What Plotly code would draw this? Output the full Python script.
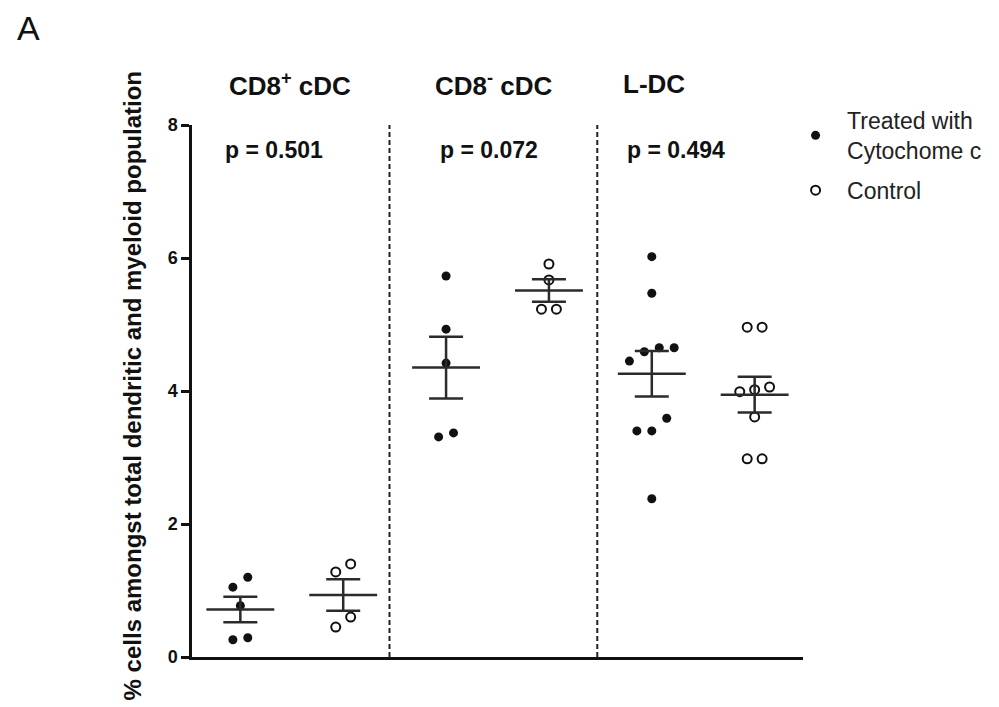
import numpy as np
import plotly.graph_objects as go

# ---- data ----
cell_types = ["CD8<sup>+</sup> cDC", "CD8<sup>-</sup> cDC", "L-DC"]
p_values = ["p = 0.501", "p = 0.072", "p = 0.494"]
treated_cd8pos = [1.05, 1.20, 0.77, 0.26, 0.29]
control_cd8pos = [1.40, 1.28, 0.60, 0.45]
treated_cd8neg = [5.73, 4.93, 4.42, 3.31, 3.37]
control_cd8neg = [5.91, 5.67, 5.23, 5.23]
treated_ldc = [6.02, 5.47, 4.65, 4.59, 4.65, 4.45, 3.59, 3.40, 3.40, 2.38]
control_ldc = [4.96, 4.96, 4.06, 3.99, 4.02, 3.61, 2.98, 2.98]
y_ticks = [0, 2, 4, 6, 8]
legend_names = ["Treated with<br>Cytochome c", "Control"]

groups = [treated_cd8pos, control_cd8pos, treated_cd8neg, control_cd8neg, treated_ldc, control_ldc]
is_treated = [True, False, True, False, True, False]

FONT = "Liberation Sans, Arial, sans-serif"
INK = "#111111"
BAR = "#2b2b2b"
STEP = 0.145  # horizontal spacing of tied points (x units)
TOL = 0.22    # values closer than this share a row


def swarm(vals):
    order = np.argsort(vals, kind="stable")
    offs = np.zeros(len(vals))
    i = 0
    while i < len(order):
        j = i
        while j + 1 < len(order) and vals[order[j + 1]] - vals[order[i]] <= TOL:
            j += 1
        n = j - i + 1
        for k in range(n):
            offs[order[i + k]] = (k - (n - 1) / 2) * STEP
        i = j + 1
    return offs


fig = go.Figure()
shown = {True: False, False: False}
for gi, (vals, tr) in enumerate(zip(groups, is_treated)):
    vals = np.array(vals, dtype=float)
    xs = gi + swarm(vals)
    fig.add_trace(go.Scatter(
        x=xs, y=vals, mode="markers",
        name=legend_names[0] if tr else legend_names[1],
        legendgroup="t" if tr else "c",
        showlegend=not shown[tr],
        marker=dict(size=9, symbol="circle",
                    color=INK if tr else "white",
                    line=dict(color=INK, width=0 if tr else 2)),
        cliponaxis=False,
    ))
    shown[tr] = True
    m = vals.mean()
    sem = vals.std(ddof=1) / np.sqrt(len(vals))
    fig.add_trace(go.Scatter(
        x=[gi - 0.33, gi + 0.33], y=[m, m], mode="lines",
        line=dict(color=BAR, width=2.5), showlegend=False, hoverinfo="skip"))
    fig.add_trace(go.Scatter(
        x=[gi], y=[m], mode="markers", marker=dict(size=1, color="rgba(0,0,0,0)"),
        error_y=dict(type="data", array=[sem], color=BAR, thickness=2.5, width=17),
        showlegend=False, hoverinfo="skip"))

# dashed separators
for xs in [1.45, 3.47]:
    fig.add_shape(type="line", x0=xs, x1=xs, y0=0, y1=8, xref="x", yref="y",
                  line=dict(color="#222222", width=2, dash="5px,3px"))

# group titles and p values
title_x = [0.48, 2.47, 4.02]
p_x = [0.33, 2.42, 4.24]
for t, tx in zip(cell_types, title_x):
    fig.add_annotation(x=tx, y=1.077, xref="x", yref="paper", text="<b>%s</b>" % t,
                       xanchor="center", yanchor="middle",
                       showarrow=False, font=dict(size=26, color=INK, family=FONT))
for p, px in zip(p_values, p_x):
    fig.add_annotation(x=px, y=0.953, xref="x", yref="paper", text="<b>%s</b>" % p,
                       xanchor="center", yanchor="middle",
                       showarrow=False, font=dict(size=23, color=INK, family=FONT))

fig.add_annotation(x=-0.097, y=0.51, xref="paper", yref="paper", textangle=-90,
                   xanchor="center", yanchor="middle",
                   text="<b>% cells amongst total dendritic and myeloid population</b>",
                   showarrow=False, font=dict(size=24, color=INK, family=FONT))
fig.add_annotation(x=-0.29, y=1.182, xref="paper", yref="paper", text="A",
                   xanchor="left", yanchor="middle",
                   showarrow=False, font=dict(size=34, color=INK, family=FONT))

fig.update_layout(
    width=991, height=699,
    margin=dict(l=184, r=191, t=117, b=50),
    plot_bgcolor="white", paper_bgcolor="white",
    font=dict(family=FONT, color=INK),
    xaxis=dict(range=[-0.47, 5.47], showgrid=False, zeroline=False, showticklabels=False,
               ticks="", showline=True, linecolor=INK, linewidth=2.5),
    yaxis=dict(range=[0, 8], tickvals=y_ticks, showgrid=False, zeroline=False,
               showline=True, linecolor=INK, linewidth=2.5, ticks="outside",
               ticklen=8, tickwidth=2.5, tickcolor=INK,
               tickfont=dict(size=18, family=FONT, color=INK, weight="bold")),
    legend=dict(x=0.969, y=1.049, xanchor="left", yanchor="top",
                font=dict(size=23, family=FONT, color="#222222"),
                bgcolor="rgba(0,0,0,0)", tracegroupgap=7, itemwidth=53),
)

fig.write_html("out.html")
